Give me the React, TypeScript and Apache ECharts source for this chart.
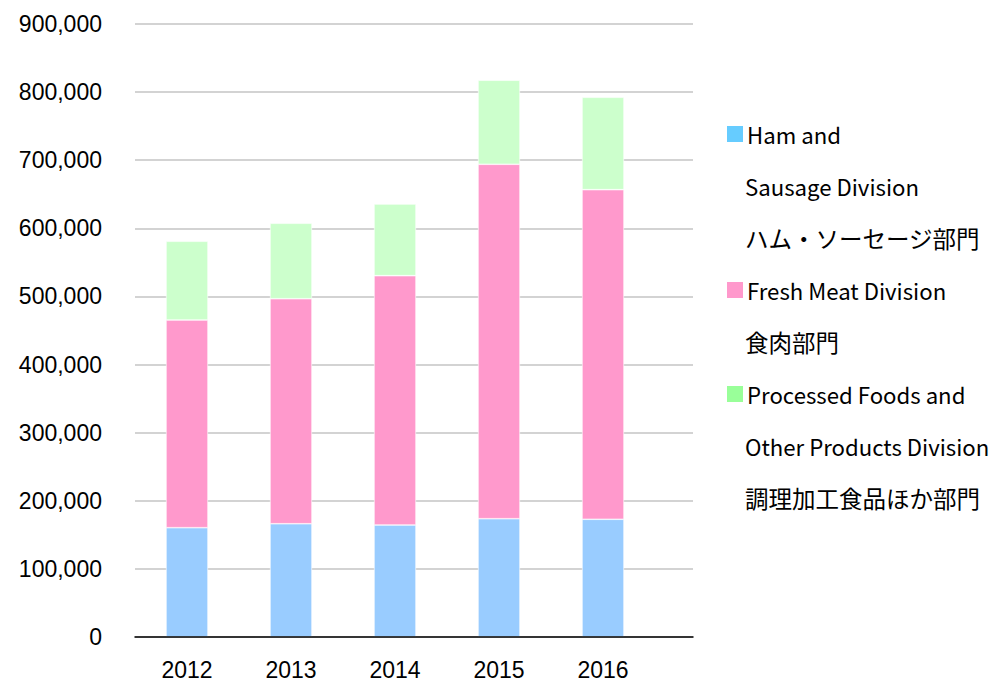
import React, { useEffect, useRef } from "react";
import * as echarts from "echarts";

const categories = ["2012", "2013", "2014", "2015", "2016"];
const hamSausage = [160500, 166300, 164400, 173700, 172800];
const freshMeat = [304900, 330400, 366100, 520300, 484000];
const processedFoods = [115600, 110700, 105200, 123400, 135600];
const seriesNames = [
  "Ham and\nSausage Division\nハム・ソーセージ部門",
  "Fresh Meat Division\n食肉部門",
  "Processed Foods and\nOther Products Division\n調理加工食品ほか部門",
];
const barColors = ["#99CCFF", "#FF99CC", "#CCFFCC"];
const legendColors = ["#66CCFF", "#FF99CC", "#99FF99"];
const yMin = 0;
const yMax = 900000;
const yInterval = 100000;

export default function App() {
  const ref = useRef<HTMLDivElement>(null);
  useEffect(() => {
    if (!ref.current) return;
    const chart = echarts.init(ref.current, undefined, { renderer: "svg" });
    const seriesData = [hamSausage, freshMeat, processedFoods];

    const legendEls: any[] = [];
    let lineIdx = 0;
    seriesNames.forEach((name, i) => {
      const lines = name.split("\n");
      const cy0 = 134 + 52 * lineIdx;
      legendEls.push({
        type: "rect",
        shape: { x: 727, y: cy0 - 8, width: 16, height: 16 },
        style: { fill: legendColors[i] },
      });
      lines.forEach((ln, j) => {
        const cjk = /[\u3000-\u9fff]/.test(ln);
        legendEls.push({
          type: "text",
          x: j === 0 ? 747 : 745,
          y: cy0 + 52 * j,
          style: {
            text: ln,
            fill: "#000",
            font: cjk ? '23.5px "Noto Sans CJK JP"' : '22.2px "Noto Sans CJK JP"',
            verticalAlign: "middle",
            align: "left",
          },
        });
      });
      lineIdx += lines.length;
    });

    chart.setOption({
      animation: false,
      backgroundColor: "#fff",
      grid: [
        { left: 135, top: 24, width: 520, height: 613 },
        { left: 135, top: 24, width: 558, height: 613 },
      ],
      xAxis: [
        {
          type: "category",
          gridIndex: 0,
          data: categories,
          axisLine: { show: false },
          axisTick: { show: false },
          axisLabel: {
            fontSize: 23,
            fontFamily: "Liberation Sans",
            color: "#000",
            margin: 21,
          },
        },
        {
          type: "value",
          gridIndex: 1,
          min: 0,
          max: 1,
          axisLabel: { show: false },
          axisTick: { show: false },
          splitLine: { show: false },
          axisLine: { show: true, lineStyle: { color: "#000", width: 1.5 } },
          z: 5,
        },
      ],
      yAxis: [
        {
          type: "value",
          gridIndex: 0,
          min: yMin,
          max: yMax,
          interval: yInterval,
          axisLine: { show: false },
          axisTick: { show: false },
          splitLine: { show: false },
          axisLabel: {
            fontSize: 23,
            fontFamily: "Liberation Sans",
            color: "#000",
            margin: 33,
            formatter: (v: number) => v.toLocaleString("en-US"),
          },
        },
        {
          type: "value",
          gridIndex: 1,
          min: yMin,
          max: yMax,
          interval: yInterval,
          axisLine: { show: false },
          axisTick: { show: false },
          axisLabel: { show: false },
          splitLine: { show: true, lineStyle: { color: "#c4c4c4", width: 1.5 } },
        },
      ],
      series: seriesNames.map((name, i) => ({
        name,
        type: "bar",
        stack: "total",
        xAxisIndex: 0,
        yAxisIndex: 0,
        barWidth: 42,
        itemStyle: { color: barColors[i], borderColor: "#ffffff", borderWidth: 0.6 },
        data: seriesData[i],
      })),
      graphic: legendEls,
    });
    return () => chart.dispose();
  }, []);
  return (
    <div
      ref={ref}
      style={{ position: "fixed", left: 0, top: 0, width: 996, height: 682, background: "#fff" }}
    />
  );
}
